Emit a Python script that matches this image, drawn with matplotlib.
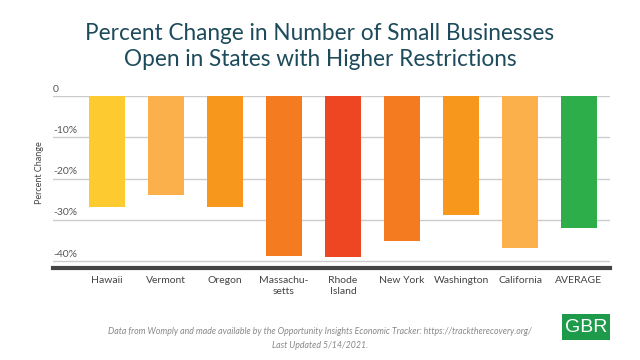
import matplotlib
matplotlib.use('Agg')
import matplotlib.pyplot as plt
from matplotlib.patches import Rectangle
import matplotlib.transforms as mtransforms

states = ['Hawaii', 'Vermont', 'Oregon', 'Massachu-\nsetts', 'Rhode\nIsland',
          'New York', 'Washington', 'California', 'AVERAGE']
pct_change = [-27.0, -23.9, -27.0, -38.7, -39.0, -35.1, -28.9, -36.8, -31.9]
bar_colors = ['#fdca30', '#fbb04b', '#f7981d', '#f47b20', '#ee4523',
              '#f47b20', '#f7981d', '#fbb04b', '#2dae4b']
y_ticks = [0, -10, -20, -30, -40]
y_tick_labels = ['0', '-10%', '-20%', '-30%', '-40%']

plt.rcParams['font.family'] = ['Lato', 'DejaVu Sans']

fig = plt.figure(figsize=(6.4, 3.6), dpi=100)
ax = fig.add_axes([53 / 640, 1 - 267.7 / 360, (610 - 53) / 640, (267.7 - 96) / 360])

x = list(range(len(states)))
ax.bar(x, pct_change, width=0.61, color=bar_colors, zorder=2)

ax.set_xlim(-0.915, 8.525)
ax.set_ylim(-41.6, 0)
ax.set_yticks(y_ticks)
ax.yaxis.grid(True, color='#cccccc', linewidth=1, zorder=0)
ax.tick_params(axis='y', length=0, labelleft=False)
ax.set_axisbelow(True)

# y labels sit just above their gridlines, left aligned
trans = mtransforms.blended_transform_factory(ax.transAxes, ax.transData)
for v, lab in zip(y_ticks, y_tick_labels):
    ax.text(0.0, v + 0.6, lab, transform=trans, ha='left', va='bottom',
            fontsize=7.5, color='#555555')

ax.set_xticks(x)
ax.set_xticklabels(states, fontsize=7.5, color='#444444', linespacing=1.3)
ax.tick_params(axis='x', length=0, pad=6)

for side in ['top', 'left', 'right']:
    ax.spines[side].set_visible(False)
ax.spines['bottom'].set_color('#444444')
ax.spines['bottom'].set_linewidth(3)

fig.text(40 / 640, 1 - 173 / 360, 'Percent Change', rotation=90, ha='center',
         va='center', fontsize=6.5, color='#444444')

fig.text(0.5, 1 - 33 / 360, 'Percent Change in Number of Small Businesses',
         ha='center', va='center', fontsize=16.3, color='#1d4b5b')
fig.text(0.5, 1 - 59 / 360, 'Open in States with Higher Restrictions',
         ha='center', va='center', fontsize=16.3, color='#1d4b5b')

fig.text(0.5, 1 - 332 / 360,
         'Data from Womply and made available by the Opportunity Insights '
         'Economic Tracker: https://tracktherecovery.org/',
         ha='center', va='center', fontsize=6.3, color='#888888', style='italic')
fig.text(0.5, 1 - 345 / 360, 'Last Updated 5/14/2021.',
         ha='center', va='center', fontsize=6.3, color='#888888', style='italic')

# GBR logo box
fig.patches.append(Rectangle((562 / 640, 1 - 340 / 360), 48 / 640, 26 / 360,
                             transform=fig.transFigure, facecolor='#1e9a4b',
                             edgecolor='none'))
fig.text(586 / 640, 1 - 327 / 360, 'GBR', ha='center', va='center',
         fontsize=14, color='white', family=['Liberation Sans', 'DejaVu Sans'])

fig.savefig('out.png', dpi=100, facecolor='white')
